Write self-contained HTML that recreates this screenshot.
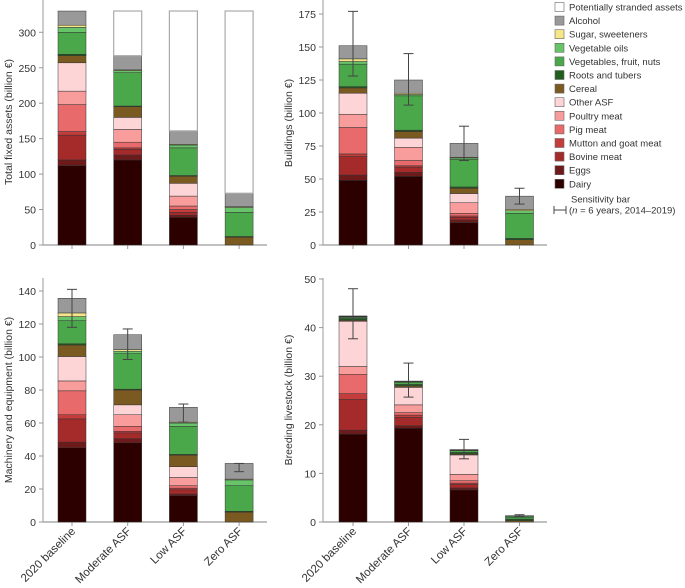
<!DOCTYPE html>
<html><head><meta charset="utf-8">
<style>
html,body{margin:0;padding:0;background:#fff;}
svg{display:block;font-family:"Liberation Sans",sans-serif;}
text{fill:#333;font-size:11px;}
</style></head>
<body>
<svg id="chart" width="685" height="588" viewBox="0 0 685 588" xmlns="http://www.w3.org/2000/svg"></svg>
<script>
const categories = ["2020 baseline","Moderate ASF","Low ASF","Zero ASF"];
const seriesNames = ["Dairy","Eggs","Bovine meat","Mutton and goat meat","Pig meat","Poultry meat","Other ASF","Cereal","Roots and tubers","Vegetables, fruit, nuts","Vegetable oils","Sugar, sweeteners","Alcohol","Potentially stranded assets"];
const seriesColors = ["#2d0000","#6e1a1a","#a52a2a","#c43c3c","#e86a6a","#f99c9c","#fdd5d7","#7a5a20","#1f5e1f","#4aa84a","#68c468","#f6e68a","#999999","#ffffff"];
// cumulative stack tops per category (bottom to top, series order above)
const totalTops = [
  [112,120,155,160,198,217,257,267,269,300,307,310,330,330],
  [120,127,135,137,145,163,180,195,196,243,246,247,267,330],
  [39,42,46,50,55,69,87,97,98,137,141,142,161,330],
  [0,0,0,0,0,0,0,11,12,46,53,54,73,330]
];
const buildingsTops = [
  [49,53,67,69,89,99,115,119,120,137,139,141,151],
  [52,55,59,60,64,74,81,86,87,113,114,115,125],
  [17,19,21,22,24,32,39,43,44,65,66,66.5,77],
  [0,0,0,0,0,0,0,4,5,24,26,27,37]
];
const buildingsErr = [[128,177],[106,145],[64,90],[31,43]];
const machineryTops = [
  [45,48.4,62.5,65,79.5,85.5,100.3,107.3,108,122,124.5,126.7,135.6],
  [48,50.5,54,55,58,65,71,80,80.5,102,103.5,104.5,113.5],
  [16,17,19.5,20.5,22,27,33.5,40.5,41,58,60,60.5,69.5],
  [0,0,0,0,0,0,0,6,6.5,22,25.5,26,35.5]
];
const machineryErr = [[118,141],[98.5,117],[60.5,71.5],[30.5,35.5]];
const breedingTops = [
  [18.1,18.9,25.2,26.4,30.4,32,41.3,41.5,41.8,42,42.2,42.3,42.4],
  [19.3,19.8,21.5,22,22.5,24.1,27.7,28,28.3,28.7,28.9,28.95,29],
  [6.6,7,7.7,8,8.5,9.8,13.8,14,14.3,14.7,14.8,14.85,14.9],
  [0,0,0,0,0,0,0,0.3,0.6,1.0,1.2,1.25,1.3]
];
const breedingErr = [[37.7,48],[25.7,32.7],[13,17],[1.1,1.5]];
const totalTicks = [0,50,100,150,200,250,300];
const buildingsTicks = [0,25,50,75,100,125,150,175];
const machineryTicks = [0,20,40,60,80,100,120,140];
const breedingTicks = [0,10,20,30,40,50];

const NS = "http://www.w3.org/2000/svg";
const svg = document.getElementById("chart");
function mk(tag, attrs, parent){
  const e = document.createElementNS(NS, tag);
  for (const k in attrs) e.setAttribute(k, attrs[k]);
  (parent||svg).appendChild(e);
  return e;
}

function panel(cfg){
  const g = mk("g", {});
  
  
  const y = v => cfg.y0 - v * (cfg.y0 - cfg.yRefPx) / cfg.yRef;
  const xs = i => cfg.xFirst + i * cfg.dx;
  const ya = mk("line", {x1:cfg.ax, x2:cfg.ax, y1:cfg.axTop, y2:cfg.y0, stroke:"#9a9a9a", "stroke-width":1}, g);
  
  
  const xa = mk("line", {x1:cfg.ax, x2:cfg.axRight, y1:cfg.y0, y2:cfg.y0, stroke:"#9a9a9a", "stroke-width":1.2}, g);
  
  
  cfg.ticks.forEach(t => {
    mk("line", {x1:cfg.ax-4, x2:cfg.ax, y1:y(t), y2:y(t), stroke:"#9a9a9a"}, g);
    const tl = mk("text", {x:cfg.ax-7, y:y(t)+4, "text-anchor":"end", style:"font-size:10.5px"}, g);
    tl.textContent = t;
    
    
  });
  const yt = mk("text", {transform:`translate(${cfg.titleX},${cfg.titleY}) rotate(-90)`, "text-anchor":"middle", style:"font-size:10.5px"}, g);
  yt.textContent = cfg.title;
  
  
  categories.forEach((c, i) => {
    const cx = xs(i);
    mk("line", {x1:cx, x2:cx, y1:cfg.y0, y2:cfg.y0+4, stroke:"#9a9a9a"}, g);
    if (cfg.xlabels){
      const lbl = mk("text", {transform:`translate(${cx+4},${cfg.y0+10}) rotate(-45)`, "text-anchor":"end", style:"font-size:11.5px"}, g);
      lbl.textContent = c;
      
      
    }
    const tops = cfg.tops[i];
    let prev = 0;
    tops.forEach((top, s) => {
      if (top - prev > 0){
        const r = mk("rect", {x:cx-14, y:y(top), width:28, height:y(prev)-y(top), fill:seriesColors[s],
          stroke: s===13 ? "#aaa" : "#333", "stroke-width": s===13 ? 1.2 : 0.5}, g);
        
        
      }
      prev = Math.max(prev, top);
    });
    if (cfg.err){
      const e = cfg.err[i];
      const eg = mk("g", {stroke:"#444", "stroke-width":1}, g);
      
      
      mk("line", {x1:cx, x2:cx, y1:y(e[0]), y2:y(e[1])}, eg);
      mk("line", {x1:cx-5, x2:cx+5, y1:y(e[0]), y2:y(e[0])}, eg);
      mk("line", {x1:cx-5, x2:cx+5, y1:y(e[1]), y2:y(e[1])}, eg);
    }
  });
}

panel({name:"total-fixed-assets-panel", ax:43, axRight:267, axTop:0, y0:245, yRef:300, yRefPx:32.3, xFirst:72, dx:55.7,
  ticks:totalTicks, tops:totalTops, title:"Total fixed assets (billion €)", titleX:12, titleY:122});
panel({name:"buildings-panel", ax:323, axRight:547, axTop:0, y0:245, yRef:175, yRefPx:14, xFirst:353, dx:55.5,
  ticks:buildingsTicks, tops:buildingsTops, err:buildingsErr, title:"Buildings (billion €)", titleX:292, titleY:123});
panel({name:"machinery-panel", ax:43, axRight:267, axTop:278, y0:522, yRef:140, yRefPx:291, xFirst:72, dx:55.7,
  ticks:machineryTicks, tops:machineryTops, err:machineryErr, title:"Machinery and equipment (billion €)", titleX:12, titleY:400, xlabels:true});
panel({name:"breeding-livestock-panel", ax:323, axRight:547, axTop:278, y0:522, yRef:50, yRefPx:279, xFirst:353, dx:55.5,
  ticks:breedingTicks, tops:breedingTops, err:breedingErr, title:"Breeding livestock (billion €)", titleX:292, titleY:400, xlabels:true});

const lg = mk("g", {});


for (let k = 0; k < seriesNames.length; k++){
  const s = seriesNames.length - 1 - k;
  const cy = 7 + k * 13.6;
  const sw = mk("rect", {x:555, y:cy-4.5, width:9, height:9, fill:seriesColors[s], stroke:"#666", "stroke-width":0.6}, lg);
  
  
  const t = mk("text", {x:569, y:cy+3.5, style:"font-size:9.5px"}, lg);
  t.textContent = seriesNames[s];
  
  
}
const sb = mk("g", {stroke:"#444"}, lg);


mk("line", {x1:554, x2:566, y1:210, y2:210}, sb);
mk("line", {x1:554, x2:554, y1:206, y2:214}, sb);
mk("line", {x1:566, x2:566, y1:206, y2:214}, sb);
const st1 = mk("text", {x:571, y:202.5, style:"font-size:9.5px"}, lg);
st1.textContent = "Sensitivity bar";


const st2 = mk("text", {x:569, y:213.5, style:"font-size:9.5px"}, lg);
st2.innerHTML = '(<tspan font-style="italic">n</tspan> = 6 years, 2014–2019)';


</script>
</body></html>
